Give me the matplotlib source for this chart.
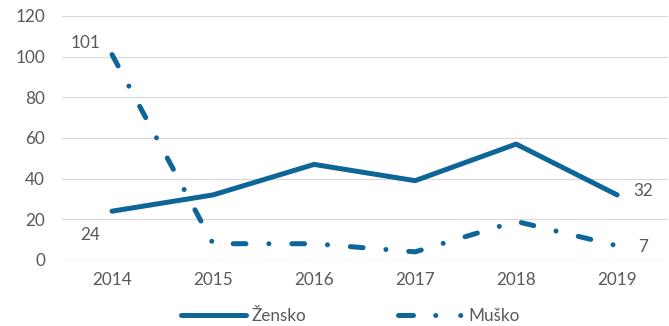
import matplotlib.pyplot as plt

plt.rcParams['font.family'] = ['Lato', 'DejaVu Sans']
plt.rcParams['lines.scale_dashes'] = False

years = ["2014", "2015", "2016", "2017", "2018", "2019"]
zensko = [24, 32, 47, 39, 57, 32]
musko = [101, 8, 8, 4, 19, 7]

blue = "#0e6598"
grey = "#595959"
fs = 12.3

fig = plt.figure(figsize=(6.69, 3.26), dpi=100)
ax = fig.add_axes([0.092, 0.2025, 0.906, 0.7485])

x = range(len(years))
ax.plot(x, zensko, color=blue, lw=3.6, solid_capstyle="round",
        solid_joinstyle="round", label="Žensko")
ax.plot(x, musko, color=blue, lw=3.6, dash_capstyle="round",
        dashes=(9.2, 16.5, 0.01, 16.5), label="Muško")

# value labels only on first and last points
ax.annotate(str(zensko[0]), (0, zensko[0]), xytext=(-16, -17), textcoords="offset points",
            ha="center", va="center", color=grey, fontsize=fs)
ax.annotate(str(musko[0]), (0, musko[0]), xytext=(-19, 8), textcoords="offset points",
            ha="center", va="center", color=grey, fontsize=fs)
ax.annotate(str(zensko[-1]), (5, zensko[-1]), xytext=(19, 3), textcoords="offset points",
            ha="center", va="center", color=grey, fontsize=fs)
ax.annotate(str(musko[-1]), (5, musko[-1]), xytext=(19, -1), textcoords="offset points",
            ha="center", va="center", color=grey, fontsize=fs)

ax.set_xlim(-0.5, 5.5)
ax.set_ylim(0, 120)
ax.set_yticks(range(0, 121, 20))
ax.set_xticks(list(x))
ax.set_xticklabels(years)
ax.grid(axis="y", color="#d9d9d9", lw=0.9)
ax.set_axisbelow(True)
for s in ax.spines.values():
    s.set_visible(False)
ax.tick_params(length=0, labelsize=fs, labelcolor=grey)
ax.tick_params(axis="y", pad=12)
ax.tick_params(axis="x", pad=9)

leg = fig.legend(loc="center", bbox_to_anchor=(0.524, 0.03), ncol=2, frameon=False,
                 fontsize=fs, handlelength=3.8, handletextpad=0.3, columnspacing=5.4)
for t in leg.get_texts():
    t.set_color(grey)
leg.get_lines()[1].set_dashes((10.8, 16, 0.01, 18, 0.01, 100))

fig.savefig("out.png", dpi=100)
